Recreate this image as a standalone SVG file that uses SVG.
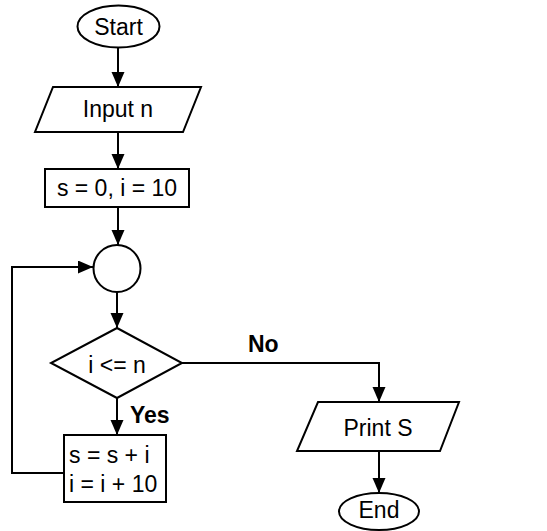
<svg xmlns="http://www.w3.org/2000/svg" width="547" height="531" viewBox="0 0 547 531">
<style>
.s{fill:#fff;stroke:#000;stroke-width:2}
.t{font-family:"Liberation Sans",Arial,sans-serif;font-size:23px;fill:#000}
.c{text-anchor:middle}
.b{font-weight:bold}
.l{fill:none;stroke:#000;stroke-width:2}
</style>
<defs>
<marker id="a" markerUnits="userSpaceOnUse" markerWidth="16" markerHeight="14" refX="15" refY="6.5" orient="auto">
<path d="M0,0 L15,6.5 L0,13 z" fill="#000"/>
</marker>
</defs>
<rect width="547" height="531" fill="#fff"/>
<g id="connectors">
<path class="l" d="M118,48 V87" marker-end="url(#a)"/>
<path class="l" d="M118,132 V169" marker-end="url(#a)"/>
<path class="l" d="M118,207 V245" marker-end="url(#a)"/>
<path class="l" d="M117,292 V328" marker-end="url(#a)"/>
<path class="l" d="M117,398 V435" marker-end="url(#a)"/>
<path class="l" d="M64,473 H12 V267 H93" marker-end="url(#a)"/>
<path class="l" d="M182,363 H379 V402" marker-end="url(#a)"/>
<path class="l" d="M379,451 V493" marker-end="url(#a)"/>
<text class="t b" x="248" y="352">No</text>
<text class="t b" x="130" y="423">Yes</text>
</g>
<g id="start">
<ellipse class="s" cx="118.5" cy="26.5" rx="41" ry="21"/>
<text class="t c" x="118.5" y="35">Start</text>
</g>
<g id="input">
<polygon class="s" points="53,87 201,87 183,132 35,132"/>
<text class="t c" x="118" y="117">Input n</text>
</g>
<g id="init">
<rect class="s" x="45" y="169" width="144" height="38"/>
<text class="t c" x="117" y="196">s = 0, i = 10</text>
</g>
<g id="junction">
<circle class="s" cx="117" cy="268.5" r="23.5"/>
</g>
<g id="decision">
<polygon class="s" points="117,328 182,363 117,398 51,363"/>
<text class="t c" x="117" y="373">i &lt;= n</text>
</g>
<g id="update">
<rect class="s" x="64" y="435" width="102" height="67"/>
<text class="t" x="69" y="463">s = s + i</text>
<text class="t" x="69" y="492">i = i + 10</text>
</g>
<g id="print">
<polygon class="s" points="318,402 459,402 440,451 297,451"/>
<text class="t c" x="378" y="436">Print S</text>
</g>
<g id="end">
<ellipse class="s" cx="379" cy="511.5" rx="40" ry="18.5"/>
<text class="t c" x="379" y="518">End</text>
</g>
</svg>
